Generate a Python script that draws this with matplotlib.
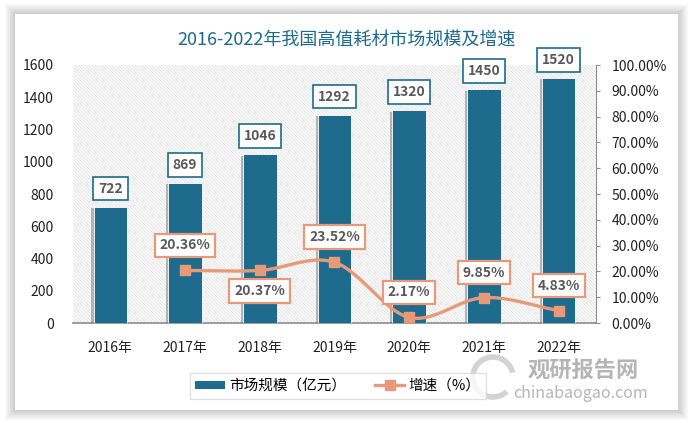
import matplotlib
matplotlib.use('Agg')
import matplotlib.pyplot as plt
import matplotlib.patheffects as pe
from matplotlib.patches import Rectangle, Patch, Arc
from matplotlib.lines import Line2D
import numpy as np

plt.rcParams['font.family'] = ['Noto Sans CJK SC', 'DejaVu Sans']
plt.rcParams['hatch.linewidth'] = 0.5

years = ['2016年', '2017年', '2018年', '2019年', '2020年', '2021年', '2022年']
market = [722, 869, 1046, 1292, 1320, 1450, 1520]
growth = [None, 20.36, 20.37, 23.52, 2.17, 9.85, 4.83]
# label above (+) or below (-) the point
growth_pos = [None, 1, -1, 1, 1, 1, 1]

BLUE = '#1d6b8d'
ORANGE = '#e89a78'
TXT = '#595959'


def catmull(xs, ys, n=30):
    xs = np.asarray(xs, float)
    ys = np.asarray(ys, float)
    px = np.concatenate([[2 * xs[0] - xs[1]], xs, [2 * xs[-1] - xs[-2]]])
    py = np.concatenate([[2 * ys[0] - ys[1]], ys, [2 * ys[-1] - ys[-2]]])
    ox, oy = [], []
    t = np.linspace(0, 1, n)
    for i in range(1, len(px) - 2):
        for p, o in ((px, ox), (py, oy)):
            p0, p1, p2, p3 = p[i - 1], p[i], p[i + 1], p[i + 2]
            o.extend(0.5 * ((2 * p1) + (-p0 + p2) * t + (2 * p0 - 5 * p1 + 4 * p2 - p3) * t ** 2
                            + (-p0 + 3 * p1 - 3 * p2 + p3) * t ** 3))
    return np.array(ox), np.array(oy)


fig = plt.figure(figsize=(6.94, 4.23), dpi=100)
W, H = 694, 423

# card with soft shadow
for k in range(10, 0, -1):
    fig.patches.append(Rectangle(((15 - k) / W, 1 - (410 + k) / H), (663 + 2 * k) / W, (396 + 2 * k) / H,
                                 transform=fig.transFigure, facecolor='#000000', alpha=0.018,
                                 edgecolor='none', zorder=0))
fig.patches.append(Rectangle((15 / W, 1 - 410 / H), 663 / W, 396 / H, transform=fig.transFigure,
                             facecolor='white', edgecolor='none', zorder=0.5))

ax = fig.add_axes([73 / W, 1 - 323 / H, (596 - 73) / W, (323 - 65) / H])
ax.set_zorder(2)
ax.patch.set_facecolor('white')
ax.patch.set_hatch('\\' * 10)
ax.patch.set_edgecolor('#d6d6d6')
ax.patch.set_linewidth(0)

x = np.arange(len(years))
bars = ax.bar(x, market, width=0.45, color=BLUE, edgecolor='white', linewidth=0.6, zorder=3,
              path_effects=[pe.SimplePatchShadow(offset=(-1.5, -1), alpha=0.4, shadow_rgbFace='#555555'),
                            pe.Normal()])
ax.set_xlim(-0.5, len(years) - 0.5)
ax.set_ylim(0, 1600)
ax.set_yticks(range(0, 1601, 200))
ax.set_xticks(x)
ax.set_xticklabels(years)
ax.tick_params(axis='x', length=0, pad=13, labelsize=10, labelcolor='#222222')
ax.tick_params(axis='y', length=0, pad=14, labelsize=10, labelcolor='#222222')
for s in ['top', 'right', 'left']:
    ax.spines[s].set_visible(False)
ax.spines['bottom'].set_color('#8c8c8c')
ax.spines['bottom'].set_linewidth(1.2)

for xi, v in zip(x, market):
    ax.annotate(str(v), (xi, v), xytext=(0, 13), textcoords='offset points', ha='center', va='center',
                fontsize=10, fontweight='bold', color=TXT, zorder=6,
                bbox=dict(boxstyle='square,pad=0.35', fc='white', ec=BLUE, lw=1.2))

ax2 = ax.twinx()
ax2.set_ylim(0, 100)
ax2.set_yticks(range(0, 101, 10))
ax2.set_yticklabels([f'{v:.2f}%' for v in range(0, 101, 10)])
ax2.tick_params(axis='y', direction='out', length=3, width=0.8, color='#8c8c8c', pad=8,
                labelsize=10, labelcolor='#222222')
for s in ['top', 'left', 'bottom']:
    ax2.spines[s].set_visible(False)
ax2.spines['right'].set_color('#8c8c8c')

gx = [xi for xi, g in zip(x, growth) if g is not None]
gy = [g for g in growth if g is not None]
sx, sy = catmull(gx, gy)
ax2.plot(sx, sy, color=ORANGE, lw=2.4, zorder=4, solid_capstyle='round')
ax2.plot(gx, gy, ls='none', marker='s', ms=7, color=ORANGE, zorder=5)
for xi, g, p in zip(x, growth, growth_pos):
    if g is None:
        continue
    off = 18 if p > 0 else -15
    ax2.annotate(f'{g:.2f}%', (xi, g), xytext=(0, off), textcoords='offset points', ha='center', va='center',
                 fontsize=10, fontweight='bold', color=TXT, zorder=6,
                 bbox=dict(boxstyle='square,pad=0.35', fc='white', ec=ORANGE, lw=1.6))

fig.text(347 / W, 1 - 40 / H, '2016-2022年我国高值耗材市场规模及增速', ha='center', va='center',
         fontsize=13, color='#1d6b8d')

handles = [Patch(facecolor=BLUE, edgecolor='none'),
           Line2D([], [], color=ORANGE, lw=2.4, marker='s', ms=7)]
fig.legend(handles, ['市场规模（亿元）', '增速（%）'], loc='center', bbox_to_anchor=(338 / W, 1 - 386 / H),
           ncol=2, frameon=True, fancybox=False, edgecolor='#d9d9d9', fontsize=10.5,
           handlelength=2.0, handleheight=0.5, handletextpad=0.3, columnspacing=2.0, borderpad=0.4)

# watermark
fig.patches.append(Arc((493 / W, 1 - 377 / H), 40 / W, 40 / H, theta1=20, theta2=300,
                       transform=fig.transFigure, color='#c8c8c8', lw=4, alpha=0.8))
fig.text(583 / W, 1 - 371 / H, '观研报告网', ha='center', va='center', fontsize=16, fontweight='bold',
         color='#a8a8a8', alpha=0.85)
fig.text(580 / W, 1 - 393 / H, 'chinabaogao.com', ha='center', va='center', fontsize=11.5,
         color='#a8a8a8', alpha=0.85)

fig.savefig('out.png', dpi=100)
